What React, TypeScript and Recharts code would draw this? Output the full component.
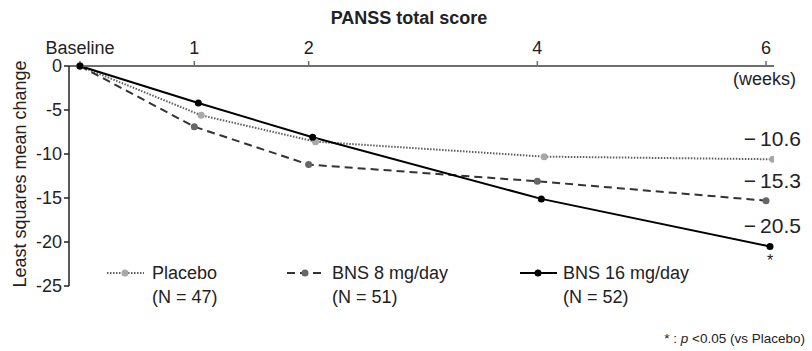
import { LineChart, Line, XAxis, YAxis, Legend } from "recharts";

const weeks = [0, 1, 2, 4, 6];
const weekTicks = [0, 1, 2, 4, 6];
const yTicks = [0, -5, -10, -15, -20, -25];

const placebo = [0, -5.6, -8.6, -10.3, -10.6];
const bns8 = [0, -6.9, -11.2, -13.1, -15.3];
const bns16 = [0, -4.2, -8.1, -15.1, -20.5];

const seriesNames = ["Placebo", "BNS 8 mg/day", "BNS 16 mg/day"];
const seriesN = [47, 51, 52];

const FONT = '"Liberation Sans", Arial, sans-serif';

// small horizontal dodge so overlapping points stay visible
const series = [
  { key: "placebo", values: placebo, dodge: 0.06, line: "#5e5e5e", dot: "#a8a8a8", dash: "1.5 1.5", legendLeft: 0, textLeft: 45 },
  { key: "bns8", values: bns8, dodge: 0, line: "#333333", dot: "#666666", dash: "8 5", legendLeft: 180, textLeft: 225 },
  { key: "bns16", values: bns16, dodge: 0.035, line: "#000000", dot: "#000000", dash: undefined, legendLeft: 413, textLeft: 456 },
];

const buildData = (values: number[], dodge: number) =>
  weeks.map((w, i) => ({ x: w === 0 ? w : w + dodge, y: values[i] }));

const fmt = (v: number) => `\u2212\u2009${Math.abs(v).toFixed(1)}`;

function EndLabel(props: any) {
  const { x, y, index, value, star } = props;
  if (index !== weeks.length - 1) return null;
  return (
    <g>
      <text x={801} y={y - 13} textAnchor="end" fontSize={21} fill="#222" fontFamily={FONT}>
        {fmt(value)}
      </text>
      {star && (
        <text x={x} y={y + 20} textAnchor="middle" fontSize={16} fill="#222" fontFamily={FONT}>
          *
        </text>
      )}
    </g>
  );
}

function LegendContent() {
  return (
    <div style={{ position: "relative", width: 600, height: 50, fontFamily: FONT, fontSize: 18, lineHeight: "24px", color: "#222" }}>
      {series.map((s, i) => (
        <div key={s.key}>
          <svg width={37} height={12} style={{ position: "absolute", left: s.legendLeft, top: 3 }}>
            <line x1={0} y1={6} x2={37} y2={6} stroke={s.line} strokeWidth={2} strokeDasharray={s.dash} />
            <circle cx={18} cy={6} r={3.5} fill={s.dot} />
          </svg>
          <div style={{ position: "absolute", left: s.textLeft, top: -3, whiteSpace: "nowrap", textAlign: "left" }}>
            {seriesNames[i]}
            <br />
            (N = {seriesN[i]})
          </div>
        </div>
      ))}
    </div>
  );
}

export default function App() {
  return (
    <div style={{ position: "absolute", left: 0, top: 0, width: 812, height: 351, background: "#fff", fontFamily: FONT }}>
      <div style={{ position: "absolute", left: 0, width: 818, top: 8, textAlign: "center", fontSize: 18, fontWeight: "bold", color: "#222" }}>
        PANSS total score
      </div>
      <div style={{ position: "absolute", left: 733, top: 69, fontSize: 18, color: "#222" }}>(weeks)</div>
      <div style={{ position: "absolute", right: 7, top: 331, fontSize: 13.5, color: "#222" }}>
        * : <i>p</i> &lt;0.05 (vs Placebo)
      </div>
      <LineChart width={812} height={351} margin={{ top: 36, right: 38, bottom: 65, left: 0 }}>
        <XAxis
          xAxisId={0}
          dataKey="x"
          type="number"
          orientation="top"
          height={30}
          domain={[-0.096, 6.07]}
          ticks={weekTicks}
          allowDataOverflow
          tickFormatter={(v: number) => (v === 0 ? "Baseline" : String(v))}
          tick={{ fill: "#222", fontSize: 18, fontFamily: FONT }}
          tickSize={5}
          tickMargin={7}
          axisLine={{ stroke: "#6e6e6e", strokeWidth: 2 }}
          tickLine={{ stroke: "#6e6e6e", strokeWidth: 1.5 }}
        />
        <YAxis
          type="number"
          domain={[-25, 0]}
          ticks={yTicks}
          width={69}
          tick={{ fill: "#222", fontSize: 18, fontFamily: FONT }}
          tickFormatter={(v: number) => String(v)}
          tickSize={5}
          tickMargin={2}
          axisLine={{ stroke: "#222", strokeWidth: 1.5 }}
          tickLine={{ stroke: "#222", strokeWidth: 1.5 }}
          label={{
            content: () => (
              <text x={26} y={174} transform="rotate(-90 26 174)" textAnchor="middle" fontSize={18} fill="#222" fontFamily={FONT}>
                Least squares mean change
              </text>
            ),
          }}
        />
        {series.map((s) => (
          <Line
            key={s.key}
            data={buildData(s.values, s.dodge)}
            dataKey="y"
            name={s.key}
            type="linear"
            stroke={s.line}
            strokeWidth={2}
            strokeDasharray={s.dash}
            dot={{ r: 3.5, fill: s.dot, stroke: "none" }}
            activeDot={false}
            isAnimationActive={false}
            label={(p: any) => <EndLabel key={`${s.key}-${p.index}`} {...p} star={s.key === "bns16"} />}
          />
        ))}
        <Legend
          verticalAlign="middle"
          align="center"
          content={() => <LegendContent />}
          wrapperStyle={{ position: "absolute", left: 107, top: 264, width: 600, height: 50 }}
        />
      </LineChart>
    </div>
  );
}
